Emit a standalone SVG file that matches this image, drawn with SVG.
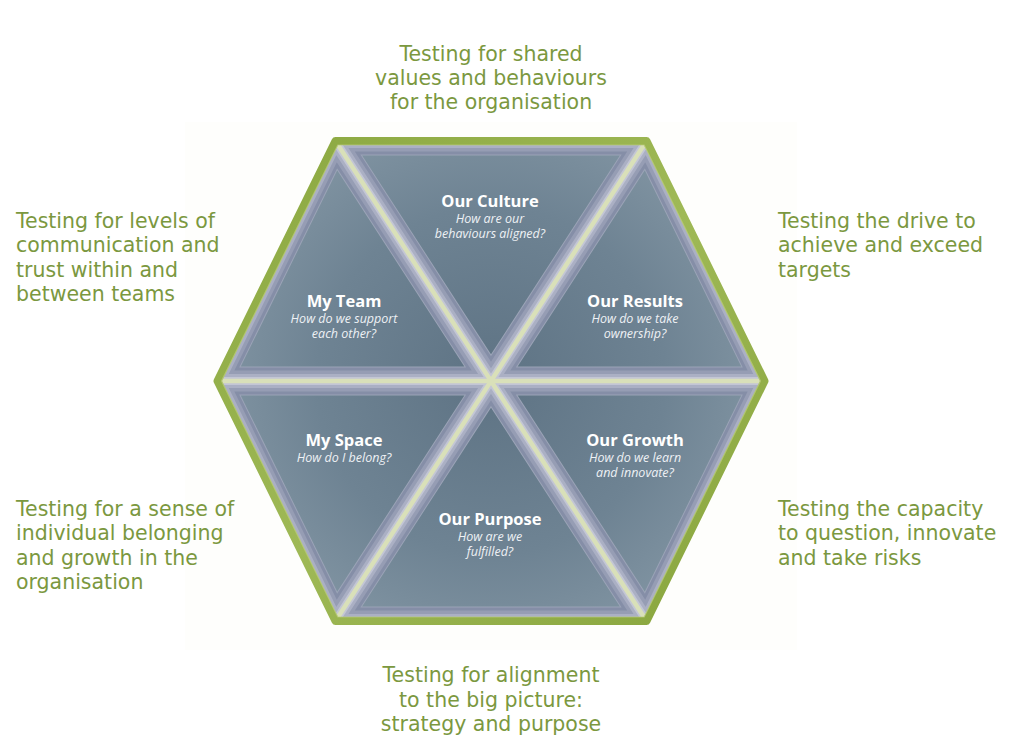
<svg xmlns="http://www.w3.org/2000/svg" xmlns:xlink="http://www.w3.org/1999/xlink" width="1028" height="751" viewBox="0 0 1028 751">
  <style>
    .face { fill: url(#slate); }
    .bv0 { fill: none; stroke: #9aa3b6; stroke-width: 29; }
    .bv1 { fill: none; stroke: #858ea7; stroke-width: 27; }
    .bv2 { fill: none; stroke: #969db4; stroke-width: 21; }
    .bv3 { fill: none; stroke: #abb0c4; stroke-width: 14; }
    .bv4 { fill: none; stroke: #c3c6d5; stroke-width: 8; }
    .ttl { font-family: "Open Sans", "Liberation Sans", sans-serif; font-weight: 700; font-size: 16.5px; fill: #ffffff; text-anchor: middle; }
    .sub { font-family: "Open Sans", "Liberation Sans", sans-serif; font-style: italic; font-size: 12.5px; fill: #eef1f5; text-anchor: middle; }
    .note { font-family: "DejaVu Sans", Verdana, sans-serif; font-size: 20.5px; fill: #7b983f; }
    .mid { text-anchor: middle; }
    .divider { stroke: #d9e0b9; stroke-width: 4.5; stroke-linecap: round; }
  </style>
  <defs>
    <radialGradient id="slate" gradientUnits="userSpaceOnUse" cx="491" cy="381" r="290">
      <stop offset="0" stop-color="#5e7384"/>
      <stop offset="0.6" stop-color="#6e8393"/>
      <stop offset="1" stop-color="#8396a4"/>
    </radialGradient>
    <linearGradient id="rim" x1="0" y1="0" x2="1" y2="1">
      <stop offset="0" stop-color="#8aa73f"/>
      <stop offset="0.5" stop-color="#9fb956"/>
      <stop offset="1" stop-color="#87a43c"/>
    </linearGradient>
    <polygon id="t1" points="491,381 335.5,141 646.5,141"/>
    <polygon id="t2" points="491,381 646.5,141 764.5,381"/>
    <polygon id="t3" points="491,381 764.5,381 646.5,621"/>
    <polygon id="t4" points="491,381 646.5,621 335.5,621"/>
    <polygon id="t5" points="491,381 335.5,621 217.5,381"/>
    <polygon id="t6" points="491,381 217.5,381 335.5,141"/>
    <clipPath id="c1"><use xlink:href="#t1"/></clipPath>
    <clipPath id="c2"><use xlink:href="#t2"/></clipPath>
    <clipPath id="c3"><use xlink:href="#t3"/></clipPath>
    <clipPath id="c4"><use xlink:href="#t4"/></clipPath>
    <clipPath id="c5"><use xlink:href="#t5"/></clipPath>
    <clipPath id="c6"><use xlink:href="#t6"/></clipPath>
  </defs>

  <rect width="1028" height="751" fill="#ffffff"/>
  <rect x="185" y="122" width="612" height="528" fill="#fefefc"/>

  <!-- hexagon segments -->
  <g id="our-culture">
    <g clip-path="url(#c1)">
      <use xlink:href="#t1" class="face"/>
      <use xlink:href="#t1" class="bv0"/><use xlink:href="#t1" class="bv1"/><use xlink:href="#t1" class="bv2"/><use xlink:href="#t1" class="bv3"/><use xlink:href="#t1" class="bv4"/>
    </g>
    <text class="ttl" x="490" y="207">Our Culture</text>
    <text class="sub" x="490" y="223">How are our</text>
    <text class="sub" x="490" y="238">behaviours aligned?</text>
  </g>

  <g id="our-results">
    <g clip-path="url(#c2)">
      <use xlink:href="#t2" class="face"/>
      <use xlink:href="#t2" class="bv0"/><use xlink:href="#t2" class="bv1"/><use xlink:href="#t2" class="bv2"/><use xlink:href="#t2" class="bv3"/><use xlink:href="#t2" class="bv4"/>
    </g>
    <text class="ttl" x="635" y="307">Our Results</text>
    <text class="sub" x="635" y="323">How do we take</text>
    <text class="sub" x="635" y="338">ownership?</text>
  </g>

  <g id="our-growth">
    <g clip-path="url(#c3)">
      <use xlink:href="#t3" class="face"/>
      <use xlink:href="#t3" class="bv0"/><use xlink:href="#t3" class="bv1"/><use xlink:href="#t3" class="bv2"/><use xlink:href="#t3" class="bv3"/><use xlink:href="#t3" class="bv4"/>
    </g>
    <text class="ttl" x="635" y="446">Our Growth</text>
    <text class="sub" x="635" y="462">How do we learn</text>
    <text class="sub" x="635" y="477">and innovate?</text>
  </g>

  <g id="our-purpose">
    <g clip-path="url(#c4)">
      <use xlink:href="#t4" class="face"/>
      <use xlink:href="#t4" class="bv0"/><use xlink:href="#t4" class="bv1"/><use xlink:href="#t4" class="bv2"/><use xlink:href="#t4" class="bv3"/><use xlink:href="#t4" class="bv4"/>
    </g>
    <text class="ttl" x="490" y="525">Our Purpose</text>
    <text class="sub" x="490" y="541">How are we</text>
    <text class="sub" x="490" y="556">fulfilled?</text>
  </g>

  <g id="my-space">
    <g clip-path="url(#c5)">
      <use xlink:href="#t5" class="face"/>
      <use xlink:href="#t5" class="bv0"/><use xlink:href="#t5" class="bv1"/><use xlink:href="#t5" class="bv2"/><use xlink:href="#t5" class="bv3"/><use xlink:href="#t5" class="bv4"/>
    </g>
    <text class="ttl" x="344" y="446">My Space</text>
    <text class="sub" x="344" y="462">How do I belong?</text>
  </g>

  <g id="my-team">
    <g clip-path="url(#c6)">
      <use xlink:href="#t6" class="face"/>
      <use xlink:href="#t6" class="bv0"/><use xlink:href="#t6" class="bv1"/><use xlink:href="#t6" class="bv2"/><use xlink:href="#t6" class="bv3"/><use xlink:href="#t6" class="bv4"/>
    </g>
    <text class="ttl" x="344" y="307">My Team</text>
    <text class="sub" x="344" y="323">How do we support</text>
    <text class="sub" x="344" y="338">each other?</text>
  </g>

  <!-- spokes between segments and the green rim -->
  <g id="connectors">
    <line class="divider" x1="491" y1="381" x2="217.5" y2="381"/>
    <line class="divider" x1="491" y1="381" x2="764.5" y2="381"/>
    <line class="divider" x1="491" y1="381" x2="335.5" y2="141"/>
    <line class="divider" x1="491" y1="381" x2="646.5" y2="141"/>
    <line class="divider" x1="491" y1="381" x2="335.5" y2="621"/>
    <line class="divider" x1="491" y1="381" x2="646.5" y2="621"/>
    <polygon points="217.5,381 335.5,141 646.5,141 764.5,381 646.5,621 335.5,621" fill="none" stroke="url(#rim)" stroke-width="8" stroke-linejoin="round"/>
    <polygon points="221.5,381 337.8,145 644.2,145 760.5,381 644.2,617 337.8,617" fill="none" stroke="#bccd7c" stroke-width="1.2" stroke-linejoin="round" opacity="0.7"/>
  </g>

  <!-- surrounding descriptions -->
  <g id="note-top">
    <text class="note mid" x="491" y="61">Testing for shared</text>
    <text class="note mid" x="491" y="85">values and behaviours</text>
    <text class="note mid" x="491" y="109">for the organisation</text>
  </g>
  <g id="note-top-left">
    <text class="note" x="16" y="228">Testing for levels of</text>
    <text class="note" x="16" y="252">communication and</text>
    <text class="note" x="16" y="277">trust within and</text>
    <text class="note" x="16" y="301">between teams</text>
  </g>
  <g id="note-top-right">
    <text class="note" x="778" y="228">Testing the drive to</text>
    <text class="note" x="778" y="252">achieve and exceed</text>
    <text class="note" x="778" y="277">targets</text>
  </g>
  <g id="note-bottom-left">
    <text class="note" x="16" y="516">Testing for a sense of</text>
    <text class="note" x="16" y="540">individual belonging</text>
    <text class="note" x="16" y="565">and growth in the</text>
    <text class="note" x="16" y="589">organisation</text>
  </g>
  <g id="note-bottom-right">
    <text class="note" x="778" y="516">Testing the capacity</text>
    <text class="note" x="778" y="540">to question, innovate</text>
    <text class="note" x="778" y="565">and take risks</text>
  </g>
  <g id="note-bottom">
    <text class="note mid" x="491" y="682">Testing for alignment</text>
    <text class="note mid" x="491" y="707">to the big picture:</text>
    <text class="note mid" x="491" y="731">strategy and purpose</text>
  </g>
</svg>
